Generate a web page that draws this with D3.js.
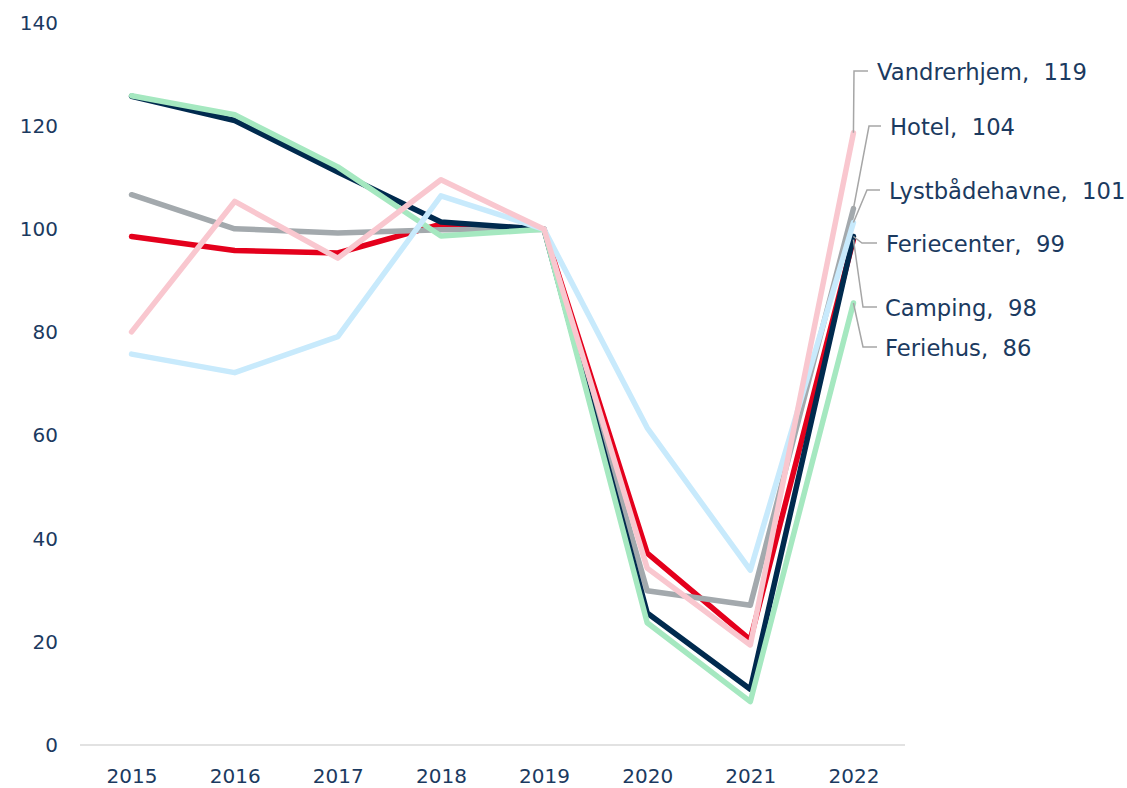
<!DOCTYPE html>
<html>
<head>
<meta charset="utf-8">
<script src="https://cdn.jsdelivr.net/npm/d3@7"></script>
<style>
  body { margin: 0; background: #fff; }
  .tick text { font-family: "DejaVu Sans", sans-serif; }
</style>
</head>
<body>
<div id="chart"></div>
<script>
// categories
var years = ["2015", "2016", "2017", "2018", "2019", "2020", "2021", "2022"];

// series values (index 2019 = 100)
var camping       = [98.6, 95.9, 95.4, 101.0, 100, 37.2, 20.4, 98.0];
var hotel         = [106.7, 100.1, 99.3, 99.9, 100, 29.9, 27.1, 104.0];
var feriecenter   = [125.8, 121.1, 111.1, 101.4, 100, 25.6, 10.8, 98.6];
var feriehus      = [125.9, 122.2, 112.1, 98.7, 100, 23.7, 8.4, 85.7];
var lystbaadehavne = [75.8, 72.2, 79.2, 106.5, 100, 61.5, 33.9, 101.3];
var vandrerhjem   = [80.1, 105.4, 94.4, 109.6, 100, 34.3, 19.4, 118.7];

var yTicks = [0, 20, 40, 60, 80, 100, 120, 140];

// series in drawing order
var series = [
  {name: "Camping",       values: camping,        label: "98",  color: "#E4001C"},
  {name: "Hotel",         values: hotel,          label: "104", color: "#A3A9AD"},
  {name: "Feriecenter",   values: feriecenter,    label: "99",  color: "#002A4E"},
  {name: "Feriehus",      values: feriehus,       label: "86",  color: "#A5E8C0"},
  {name: "Lystbådehavne", values: lystbaadehavne, label: "101", color: "#C8EAFC"},
  {name: "Vandrerhjem",   values: vandrerhjem,    label: "119", color: "#F9C7CF"}
];

// label layout: elbow point + text start (pixels)
var labelLayout = {
  "Vandrerhjem":   {elbow: [854, 71],  end: [868, 71],  text: [877, 80]},
  "Hotel":         {elbow: [869, 126], end: [881, 126], text: [890, 135]},
  "Lystbådehavne": {elbow: [867, 190], end: [880, 190], text: [889, 199]},
  "Feriecenter":   {elbow: [862, 243], end: [877, 243], text: [886, 252]},
  "Camping":       {elbow: [863, 307], end: [877, 307], text: [885, 316]},
  "Feriehus":      {elbow: [863, 347], end: [877, 347], text: [885, 356]}
};

var width = 1127, height = 788;
var textColor = "#1B3A60";

var svg = d3.select("#chart").append("svg")
  .attr("width", width)
  .attr("height", height);

var x = d3.scalePoint().domain(years).range([80, 905]).padding(0.5);
var y = d3.scaleLinear().domain([0, 140]).range([745, 23]);

// y axis labels
var yAxis = svg.append("g")
  .attr("transform", "translate(58,0)")
  .call(d3.axisLeft(y).tickValues(yTicks).tickSize(0).tickPadding(0));
yAxis.select(".domain").remove();
yAxis.selectAll("text")
  .attr("fill", textColor)
  .attr("font-size", "20px");

// x axis
var xAxis = svg.append("g")
  .attr("transform", "translate(0,745)")
  .call(d3.axisBottom(x).tickSize(0).tickPadding(24));
xAxis.select(".domain").attr("stroke", "#D9D9D9").attr("stroke-width", 1.5)
  .attr("d", "M80,0H905");
xAxis.selectAll("text")
  .attr("fill", textColor)
  .attr("font-size", "20px");

var line = d3.line()
  .x(function(d, i) { return x(years[i]); })
  .y(function(d) { return y(d); });

svg.selectAll("path.series").data(series)
  .enter()
  .append("path")
    .attr("class", "series")
    .attr("fill", "none")
    .attr("stroke", function(d) { return d.color; })
    .attr("stroke-width", 5.5)
    .attr("stroke-linejoin", "round")
    .attr("stroke-linecap", "round")
    .attr("d", function(d) { return line(d.values); });

// leader lines + labels
var last = years.length - 1;
series.forEach(function(s) {
  var lay = labelLayout[s.name];
  var px = x(years[last]), py = y(s.values[last]);
  svg.append("path")
    .attr("fill", "none")
    .attr("stroke", "#A6A6A6")
    .attr("stroke-width", 1.5)
    .attr("d", "M" + px + "," + py + "L" + lay.elbow[0] + "," + lay.elbow[1] +
               "L" + lay.end[0] + "," + lay.end[1]);
  svg.append("text")
    .attr("x", lay.text[0])
    .attr("y", lay.text[1])
    .attr("fill", textColor)
    .attr("font-family", "DejaVu Sans, sans-serif")
    .attr("font-size", "22.7px")
    .attr("xml:space", "preserve")
    .style("white-space", "pre")
    .text(s.name + ",  " + s.label);
});
</script>
</body>
</html>
